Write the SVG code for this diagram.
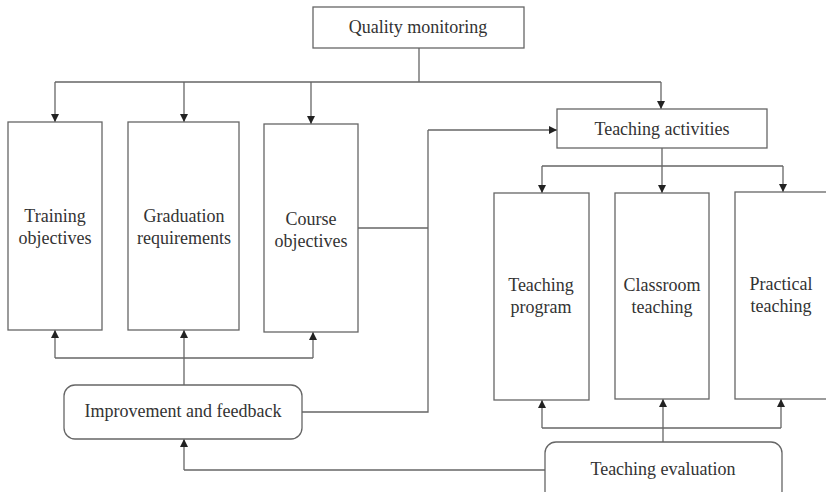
<svg xmlns="http://www.w3.org/2000/svg" width="826" height="492" viewBox="0 0 826 492">
<defs>
<marker id="ah" viewBox="0 0 10 10" refX="10" refY="5" markerWidth="8" markerHeight="8" markerUnits="userSpaceOnUse" orient="auto">
<path d="M0,0 L10,5 L0,10 Z" fill="#222"/>
</marker>
<style>
.box{fill:#fff;stroke:#666;stroke-width:1.3}
.ln{fill:none;stroke:#666;stroke-width:1.3}
.ar{fill:none;stroke:#666;stroke-width:1.3;marker-end:url(#ah)}
.t{font-family:'Liberation Serif','Times New Roman','DejaVu Serif',serif;font-size:18px;fill:#333;text-anchor:middle}
</style>
</defs>
<rect width="826" height="492" fill="#fff"/>
<g id="connectors">
<path class="ln" d="M419,48 V82 M55,82 H661"/>
<path class="ar" d="M55,82 V122"/>
<path class="ar" d="M184,82 V122"/>
<path class="ar" d="M311,82 V124"/>
<path class="ar" d="M661,82 V109"/>
<path class="ln" d="M55,358 H313"/>
<path class="ar" d="M55,358 V330"/>
<path class="ar" d="M313,358 V332"/>
<path class="ar" d="M184,385 V330"/>
<path class="ln" d="M302,412 H428 V130"/>
<path class="ln" d="M358,228 H428"/>
<path class="ar" d="M428,130 H557"/>
<path class="ln" d="M662,148 V166 M542,166 H783"/>
<path class="ar" d="M542,166 V193"/>
<path class="ar" d="M662,166 V193"/>
<path class="ar" d="M783,166 V192"/>
<path class="ln" d="M542,428 H781"/>
<path class="ar" d="M542,428 V400"/>
<path class="ar" d="M781,428 V399"/>
<path class="ar" d="M663,442 V399"/>
<path class="ln" d="M545,470 H184"/>
<path class="ar" d="M184,470 V439"/>
</g>
<g id="quality-monitoring">
<rect class="box" x="313" y="7" width="211" height="41"/>
<text class="t" x="418" y="33">Quality monitoring</text>
</g>
<g id="training-objectives">
<rect class="box" x="8" y="122" width="94" height="208"/>
<text class="t" x="55" y="222">Training</text>
<text class="t" x="55" y="244">objectives</text>
</g>
<g id="graduation-requirements">
<rect class="box" x="128" y="122" width="111" height="208"/>
<text class="t" x="184" y="222">Graduation</text>
<text class="t" x="184" y="244">requirements</text>
</g>
<g id="course-objectives">
<rect class="box" x="264" y="124" width="94" height="208"/>
<text class="t" x="311" y="225">Course</text>
<text class="t" x="311" y="247">objectives</text>
</g>
<g id="improvement-feedback">
<rect class="box" x="64" y="385" width="238" height="54" rx="11"/>
<text class="t" x="183" y="417">Improvement and feedback</text>
</g>
<g id="teaching-activities">
<rect class="box" x="557" y="109" width="210" height="39"/>
<text class="t" x="662" y="135">Teaching activities</text>
</g>
<g id="teaching-program">
<rect class="box" x="494" y="193" width="95" height="207"/>
<text class="t" x="541" y="291">Teaching</text>
<text class="t" x="541" y="313">program</text>
</g>
<g id="classroom-teaching">
<rect class="box" x="615" y="193" width="94" height="206"/>
<text class="t" x="662" y="291">Classroom</text>
<text class="t" x="662" y="313">teaching</text>
</g>
<g id="practical-teaching">
<rect class="box" x="735" y="192" width="100" height="207"/>
<text class="t" x="781" y="290">Practical</text>
<text class="t" x="781" y="312">teaching</text>
</g>
<g id="teaching-evaluation">
<rect class="box" x="545" y="442" width="237" height="60" rx="11"/>
<text class="t" x="663" y="475">Teaching evaluation</text>
</g>
</svg>
